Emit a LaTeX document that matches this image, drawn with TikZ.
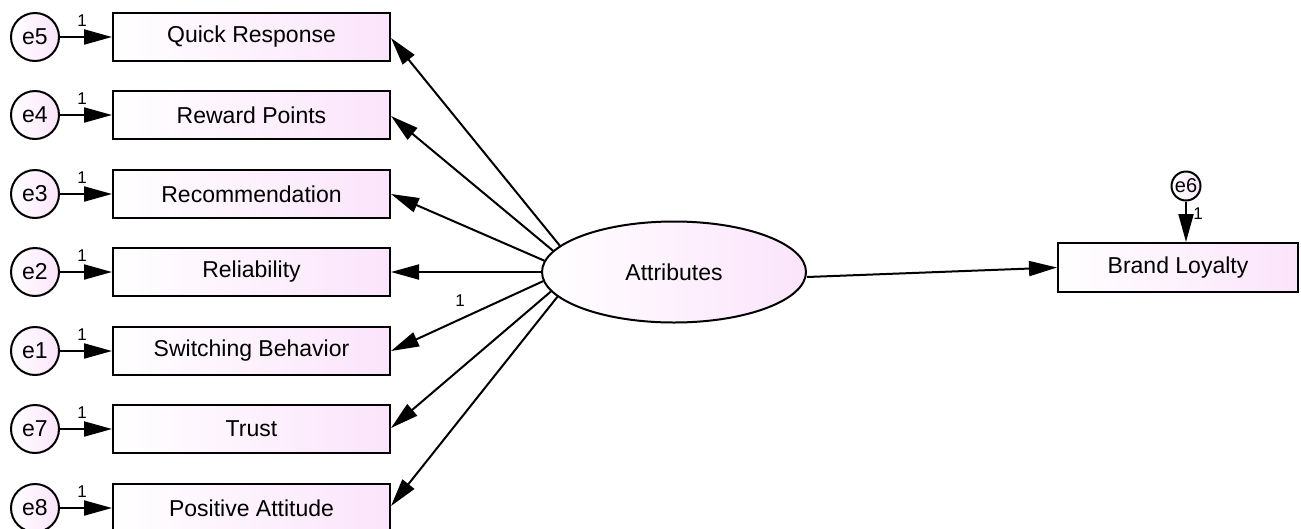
\documentclass[tikz,border=0pt]{standalone}
\usepackage{fontspec}
\setmainfont{Liberation Sans}
\usetikzlibrary{arrows.meta,shapes.geometric}
\definecolor{pinkish}{RGB}{251,228,251}
\begin{document}
\begin{tikzpicture}[x=1pt,y=-1pt,
  obs/.style={draw,line width=2pt,minimum width=277pt,minimum height=48pt,inner sep=0pt,left color=white,right color=pinkish,font=\fontsize{23}{27}\selectfont},
  err/.style={circle,draw,line width=2pt,minimum size=48pt,inner sep=0pt,left color=white,right color=pinkish,font=\fontsize{23}{27}\selectfont},
  arr/.style={line width=2pt,-{Triangle[length=28pt,width=15pt]}},
  one/.style={font=\fontsize{17}{19}\selectfont,inner sep=0pt}]
\useasboundingbox (0,0) rectangle (1301,528);
% latent
\node[ellipse,draw,line width=2pt,minimum width=264pt,minimum height=101pt,inner sep=0pt,left color=white,right color=pinkish,font=\fontsize{23}{27}\selectfont] (A) at (674,272) {Attributes};
% indicators
\node[obs] (qr) at (251.5,37) {Quick Response};
\node[obs] (rp) at (251.5,115) {Reward Points};
\node[obs] (rc) at (251.5,194) {Recommendation};
\node[obs] (rl) at (251.5,272) {Reliability};
\node[obs] (sb) at (251.5,351) {Switching Behavior};
\node[obs] (tr) at (251.5,429) {Trust};
\node[obs] (pa) at (251.5,508) {Positive Attitude};
% errors
\node[err] (e5) at (35,37) {e5};
\node[err] (e4) at (35,115) {e4};
\node[err] (e3) at (35,194) {e3};
\node[err] (e2) at (35,272) {e2};
\node[err] (e1) at (35,351) {e1};
\node[err] (e7) at (35,429) {e7};
\node[err] (e8) at (35,508) {e8};
\foreach \e/\b in {e5/qr,e4/rp,e3/rc,e2/rl,e1/sb,e7/tr,e8/pa}{
  \draw[arr] (\e) -- (\b);
}
\node[one] (l5) at (82,21) {1};
\node[one] (l4) at (82,99) {1};
\node[one] (l3) at (82,178) {1};
\node[one] (l2) at (82,256) {1};
\node[one] (l1) at (82,335) {1};
\node[one] (l7) at (82,413) {1};
\node[one] (l8) at (82,492) {1};
% loadings
\draw[arr] (A.167.5) -- ([yshift=-1pt]qr.east);
\draw[arr] (A.170.2) -- ([yshift=-1pt]rp.east);
\draw[arr] (A.175.6) -- (rc.east);
\draw[arr] (A.180) -- (rl.east);
\draw[arr] (A.184.4) -- (sb.east);
\draw[arr] (A.189.8) -- ([yshift=1pt]tr.east);
\draw[arr] (A.192.5) -- ([yshift=2pt]pa.east);
\node[one] (ls) at (460,301) {1};
% outcome
\node[draw,line width=2pt,minimum width=240pt,minimum height=49pt,inner sep=0pt,left color=white,right color=pinkish,font=\fontsize{23}{27}\selectfont] (bl) at (1178,267.5) {Brand Loyalty};
\node[circle,draw,line width=2pt,minimum size=29pt,inner sep=0pt,left color=white,right color=pinkish,font=\fontsize{20}{22}\selectfont] (e6) at (1186,186) {e6};
\draw[arr] (e6) -- (e6 |- bl.north);
\node[one] (l6) at (1198,214) {1};
\draw[arr] ([yshift=-5pt]A.east) -- (bl.west);
\end{tikzpicture}
\end{document}
